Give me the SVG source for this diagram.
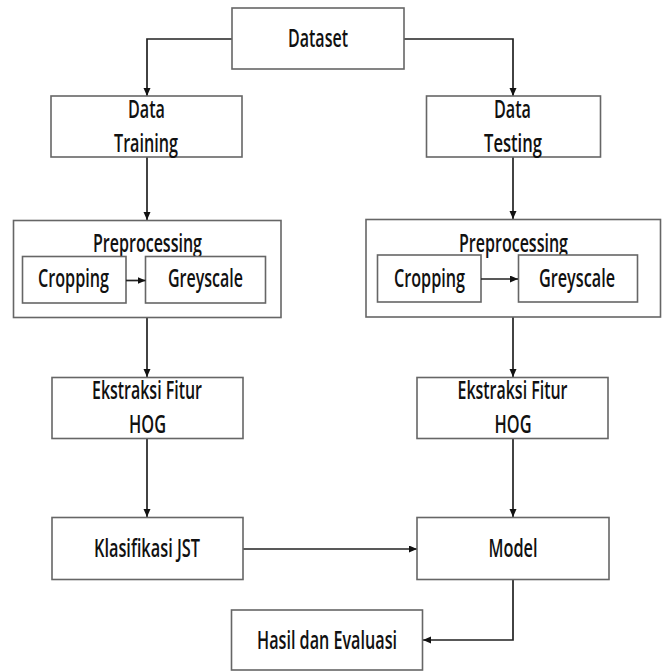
<svg xmlns="http://www.w3.org/2000/svg" width="668" height="671" viewBox="0 0 668 671">
<defs>
<marker id="ah" markerUnits="userSpaceOnUse" markerWidth="9" markerHeight="8" refX="8" refY="3.5" orient="auto">
<path d="M0,0 L8,3.5 L0,7 z" fill="#111"/>
</marker>
</defs>
<style>
.box{fill:#fff;stroke:#666;stroke-width:1.6}
.t{font-family:"Open Sans","Noto Sans","Liberation Sans",sans-serif;font-weight:600;font-size:25px;fill:#111;text-anchor:middle}
.c{fill:none;stroke:#222;stroke-width:1.7;marker-end:url(#ah)}
</style>
<rect width="668" height="671" fill="#fff"/>
<g id="connectors">
<path class="c" d="M232,39 H147 V96"/>
<path class="c" d="M404,39 H513 V96"/>
<path class="c" d="M147,157 V220"/>
<path class="c" d="M513,157 V219"/>
<path class="c" d="M147,318 V377"/>
<path class="c" d="M513,317 V377"/>
<path class="c" d="M147,438 V517"/>
<path class="c" d="M513,438 V517"/>
<path class="c" d="M243,549 H417"/>
<path class="c" d="M513,579 V640 H423"/>
</g>
<g id="dataset">
<rect class="box" x="232" y="8" width="172" height="61"/>
<text class="t" x="318" y="47" textLength="60" lengthAdjust="spacingAndGlyphs">Dataset</text>
</g>
<g id="data-training">
<rect class="box" x="51" y="96" width="191" height="61"/>
<text class="t" x="146.5" y="118" textLength="37" lengthAdjust="spacingAndGlyphs">Data</text>
<text class="t" x="146" y="152" textLength="64" lengthAdjust="spacingAndGlyphs">Training</text>
</g>
<g id="data-testing">
<rect class="box" x="426.5" y="96" width="174" height="61"/>
<text class="t" x="512.5" y="118" textLength="37" lengthAdjust="spacingAndGlyphs">Data</text>
<text class="t" x="513" y="152" textLength="58" lengthAdjust="spacingAndGlyphs">Testing</text>
</g>
<g id="preprocessing-left">
<rect class="box" x="13.5" y="220.5" width="267.5" height="97"/>
<text class="t" x="147.5" y="252" textLength="109" lengthAdjust="spacingAndGlyphs">Preprocessing</text>
<g id="cropping-left">
<rect class="box" x="22.5" y="256.5" width="103.5" height="46.5"/>
<text class="t" x="73.5" y="287" textLength="71" lengthAdjust="spacingAndGlyphs">Cropping</text>
</g>
<g id="greyscale-left">
<rect class="box" x="145.5" y="256.5" width="120" height="46.5"/>
<text class="t" x="205.5" y="287" textLength="75" lengthAdjust="spacingAndGlyphs">Greyscale</text>
</g>
<path class="c" d="M126,280.5 H145.5"/>
</g>
<g id="preprocessing-right">
<rect class="box" x="366" y="219.5" width="294.5" height="97.5"/>
<text class="t" x="513.5" y="252" textLength="109" lengthAdjust="spacingAndGlyphs">Preprocessing</text>
<g id="cropping-right">
<rect class="box" x="377.5" y="255" width="103.5" height="47"/>
<text class="t" x="429.5" y="287" textLength="71" lengthAdjust="spacingAndGlyphs">Cropping</text>
</g>
<g id="greyscale-right">
<rect class="box" x="518.5" y="255" width="119" height="47"/>
<text class="t" x="577" y="287" textLength="76" lengthAdjust="spacingAndGlyphs">Greyscale</text>
</g>
<path class="c" d="M481,279 H518"/>
</g>
<g id="ekstraksi-left">
<rect class="box" x="52" y="377.5" width="191" height="61"/>
<text class="t" x="147" y="399" textLength="110" lengthAdjust="spacingAndGlyphs">Ekstraksi Fitur</text>
<text class="t" x="147.5" y="433" textLength="37" lengthAdjust="spacingAndGlyphs">HOG</text>
</g>
<g id="ekstraksi-right">
<rect class="box" x="417" y="377.5" width="191" height="61"/>
<text class="t" x="512.5" y="399" textLength="110" lengthAdjust="spacingAndGlyphs">Ekstraksi Fitur</text>
<text class="t" x="513" y="433" textLength="37" lengthAdjust="spacingAndGlyphs">HOG</text>
</g>
<g id="klasifikasi">
<rect class="box" x="52" y="517.5" width="191" height="62"/>
<text class="t" x="147" y="557" textLength="106" lengthAdjust="spacingAndGlyphs">Klasifikasi JST</text>
</g>
<g id="model">
<rect class="box" x="417" y="517.5" width="192" height="62"/>
<text class="t" x="513" y="557" textLength="49" lengthAdjust="spacingAndGlyphs">Model</text>
</g>
<g id="hasil">
<rect class="box" x="231.5" y="610" width="191" height="60"/>
<text class="t" x="327" y="649" textLength="140" lengthAdjust="spacingAndGlyphs">Hasil dan Evaluasi</text>
</g>
</svg>
